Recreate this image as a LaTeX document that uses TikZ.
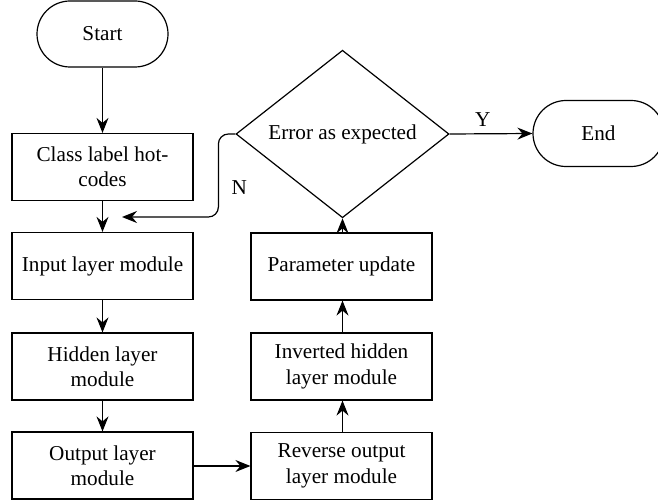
\documentclass[tikz,border=0pt]{standalone}
\usepackage{fontspec}
\setmainfont{Liberation Serif}
\usetikzlibrary{shapes.geometric,arrows.meta}
\tikzset{font={\fontsize{10.6pt}{12.7pt}\selectfont}}
\tikzset{
  box/.style={draw, line width=0.6pt, minimum width=90.5pt, minimum height=33.5pt, align=center, inner sep=2pt},
  terminal/.style={draw, line width=0.6pt, rounded corners=16.5pt, minimum width=65.5pt, minimum height=33pt},
  decision/.style={draw, line width=0.6pt, diamond, inner sep=0pt, minimum width=106.5pt, minimum height=67pt},
  flow/.style={-{Stealth[length=7.5pt,width=6pt,inset=2.5pt]}, line width=0.6pt}
}

\begin{document}
\begin{tikzpicture}[x=0.5pt,y=-0.5pt]
      \useasboundingbox (0,0) rectangle (658,502);
      %left column
      \node[terminal] (start) at (102.5,34) {Start};
      \node[box] (class) at (102.5,167) {Class label hot-\\codes};
      \node[box] (input) at (102.5,266) {Input layer module};
      \node[box] (hidden) at (102.5,366.5) {Hidden layer\\module};
      \node[box] (output) at (102.5,465.5) {Output layer\\module};
      %right column
      \node[box] (reverse) at (341.5,466) {Reverse output\\layer module};
      \node[box] (inverted) at (341.5,366.5) {Inverted hidden\\layer module};
      \node[box] (param) at (341.5,266.5) {Parameter update};
      \node[decision] (error) at (342.5,134) {Error as expected};
      \node[terminal] (end) at (598.5,133.5) {End};
      \coordinate (back) at (122,217);
      %arrows
      \draw[flow] (start) -- (class);
      \draw[flow] (class) -- (input);
      \draw[flow] (input) -- (hidden);
      \draw[flow] (hidden) -- (output);
      \draw[flow] (output.east |- reverse.west) -- (reverse.west);
      \draw[flow] (reverse.north -| error.south) -- (inverted.south -| error.south);
      \draw[flow] (inverted.north -| error.south) -- (param.south -| error.south);
      \draw[flow] (param.north -| error.south) -- (error.south);
      \draw[flow] (error.east) -- node[above, pos=0.4] {Y} (end.west);
      \draw[flow, rounded corners=5] (error.west) -- ++(-17,0) |- node[pos=0.32, right=3pt] {N} (back);
    \end{tikzpicture}
\end{document}
